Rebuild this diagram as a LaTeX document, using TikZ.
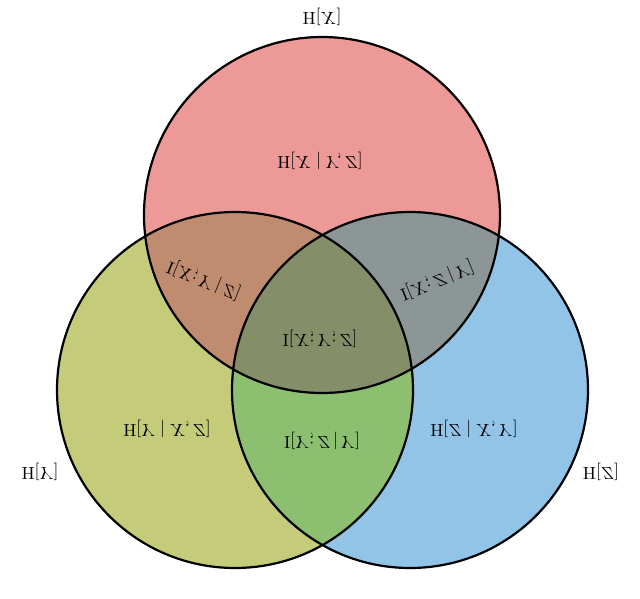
\documentclass[tikz,border=0pt]{standalone}
\begin{document}
\begin{tikzpicture}[x=1pt,y=-1pt,lbl/.style={transform shape,scale=1.75,inner sep=1pt},circ/.style={line width=2.2pt}]
\definecolor{cx}{RGB}{237,153,152}
\definecolor{cy}{RGB}{197,204,121}
\definecolor{cz}{RGB}{146,196,232}
\definecolor{cxy}{RGB}{192,140,112}
\definecolor{cxz}{RGB}{140,150,150}
\definecolor{cyz}{RGB}{140,192,112}
\definecolor{cxyz}{RGB}{132,142,104}
\useasboundingbox (0,0) rectangle (640,598);
\coordinate (X) at (322,215);
\coordinate (Y) at (235,390);
\coordinate (Z) at (410,390);
\def\R{178}
\fill[cx] (X) circle (\R);
\fill[cy] (Y) circle (\R);
\fill[cz] (Z) circle (\R);
\begin{scope}\clip (X) circle (\R); \fill[cxy] (Y) circle (\R); \fill[cxz] (Z) circle (\R);\end{scope}
\begin{scope}\clip (Y) circle (\R); \fill[cyz] (Z) circle (\R);\end{scope}
\begin{scope}\clip (X) circle (\R); \clip (Y) circle (\R); \fill[cxyz] (Z) circle (\R);\end{scope}
\draw[circ] (X) circle (\R) (Y) circle (\R) (Z) circle (\R);
\node[lbl,yscale=-1] (hx) at (322,17) {$\mathrm{H}[X]$};
\node[lbl,yscale=-1] (hy) at (40,472) {$\mathrm{H}[Y]$};
\node[lbl,yscale=-1] (hz) at (601,472) {$\mathrm{H}[Z]$};
\node[lbl,yscale=-1] (hxyz) at (320,161) {$\mathrm{H}[X\mid Y,Z]$};
\node[lbl,yscale=-1,rotate=22] (ixy) at (204,280) {$\mathrm{I}[X;Y\,|\,Z]$};
\node[lbl,yscale=-1,rotate=-22] (ixz) at (437,280) {$\mathrm{I}[X;Z\,|\,Y]$};
\node[lbl,yscale=-1] (ixyz) at (320,339) {$\mathrm{I}[X;Y;Z]$};
\node[lbl,yscale=-1] (hyxz) at (167,429) {$\mathrm{H}[Y\mid X,Z]$};
\node[lbl,yscale=-1] (iyz) at (322,441) {$\mathrm{I}[Y;Z\,|\,Y]$};
\node[lbl,yscale=-1] (hzxy) at (474,429) {$\mathrm{H}[Z\mid X,Y]$};
\end{tikzpicture}
\end{document}
